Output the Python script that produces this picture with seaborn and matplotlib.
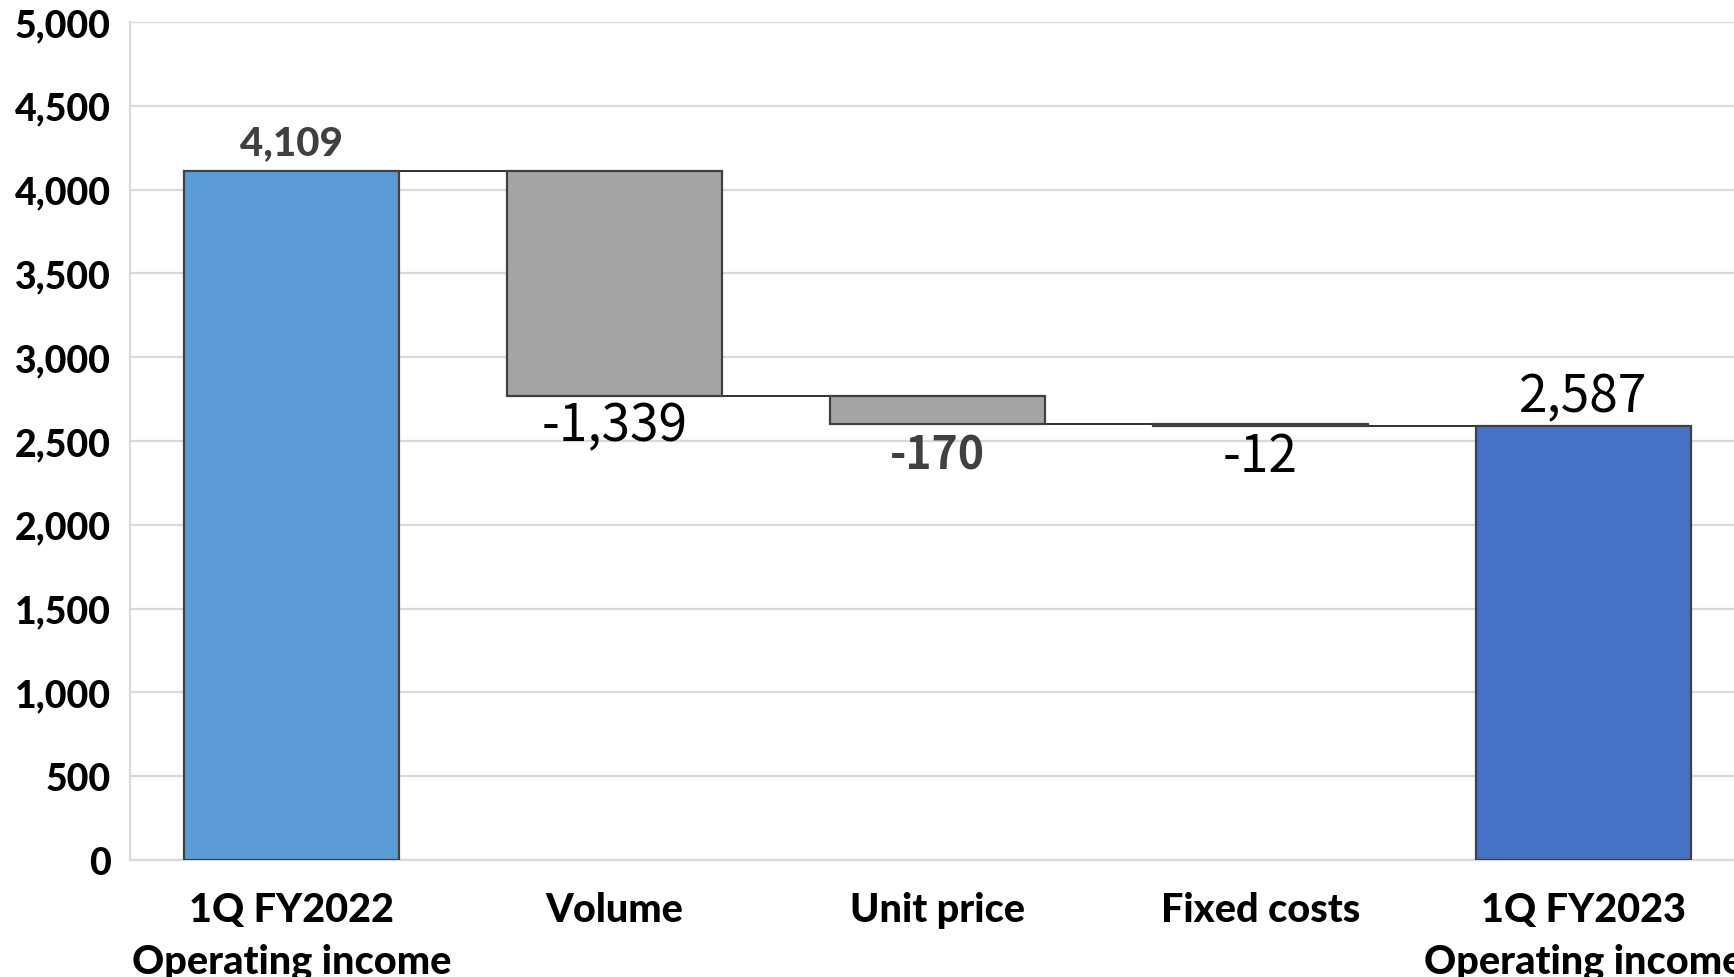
import matplotlib
matplotlib.use("Agg")
import matplotlib.pyplot as plt
import seaborn as sns
import pandas as pd
import numpy as np

# Operating income bridge, 1Q FY2022 -> 1Q FY2023
categories = ["1Q FY2022\nOperating income", "Volume", "Unit price",
              "Fixed costs", "1Q FY2023\nOperating income"]
values = [4109, -1339, -170, -12, 2587]
kinds = ["total", "delta", "delta", "delta", "total"]
value_labels = ["4,109", "-1,339", "-170", "-12", "2,587"]
y_ticks = list(range(0, 5001, 500))

# floating bar geometry from the running total
bottoms, heights, levels = [], [], []
running = 0
for v, k in zip(values, kinds):
    if k == "total":
        bottoms.append(0)
        heights.append(v)
        running = v
    else:
        new = running + v
        bottoms.append(min(running, new))
        heights.append(abs(v))
        running = new
    levels.append(running)

df = pd.DataFrame({"category": categories, "height": heights})

sns.set_theme(style="white")
plt.rcParams["font.family"] = ["Lato", "DejaVu Sans"]

fig = plt.figure(figsize=(17.34, 9.78), dpi=100)
ax = fig.add_axes([130 / 1734, 117 / 978, 1615 / 1734, 838 / 978])

bar_w = 0.667
sns.barplot(data=df, x="category", y="height", bottom=bottoms, width=bar_w,
            errorbar=None, color="#A5A5A5", edgecolor="#404040",
            linewidth=1.6, ax=ax, zorder=3)

bar_colors = ["#5B9BD5", "#A5A5A5", "#A5A5A5", "#A5A5A5", "#4472C4"]
for patch, c in zip(ax.patches, bar_colors):
    patch.set_facecolor(c)

# connectors between consecutive bars
for i in range(len(categories) - 1):
    ax.plot([i + bar_w / 2, i + 1 - bar_w / 2], [levels[i], levels[i]],
            color="#303030", lw=1.4, zorder=2, solid_capstyle="butt")

# value labels
gothic = ["Noto Sans CJK JP", "DejaVu Sans"]
label_styles = [
    dict(family=["Lato", "DejaVu Sans"], weight="black", color="#404040", size=29),
    dict(family=gothic, weight="normal", color="black", size=37),
    dict(family=gothic, weight="bold", color="#404040", size=32),
    dict(family=gothic, weight="normal", color="black", size=37),
    dict(family=gothic, weight="normal", color="black", size=37),
]
label_offsets = [7, -2, -6, -2, 2]
for i, (lab, k, st, off) in enumerate(zip(value_labels, kinds, label_styles, label_offsets)):
    if k == "total":
        ax.annotate(lab, (i, bottoms[i] + heights[i]), xytext=(0, off),
                    textcoords="offset points", ha="center", va="bottom", **st)
    else:
        ax.annotate(lab, (i, bottoms[i]), xytext=(0, off),
                    textcoords="offset points", ha="center", va="top", **st)

ax.set_xlim(-0.5, len(categories) - 0.5)
ax.set_ylim(0, 5000)
ax.set_yticks(y_ticks)
ax.set_yticklabels([f"{t:,}" for t in y_ticks])
ax.set_xlabel("")
ax.set_ylabel("")

ax.grid(axis="y", color="#D9D9D9", lw=1.6, zorder=0)
ax.set_axisbelow(True)
for s in ["top", "right"]:
    ax.spines[s].set_visible(False)
for s in ["left", "bottom"]:
    ax.spines[s].set_color("#D9D9D9")
    ax.spines[s].set_linewidth(1.6)

ax.tick_params(axis="y", length=0, pad=14, labelsize=27, labelcolor="black")
ax.tick_params(axis="x", length=0, pad=22, labelsize=28.5, labelcolor="black")
for t in ax.get_yticklabels() + ax.get_xticklabels():
    t.set_fontweight("black")
for t in ax.get_xticklabels():
    t.set_linespacing(1.5)

fig.savefig("out.png", dpi=100)
